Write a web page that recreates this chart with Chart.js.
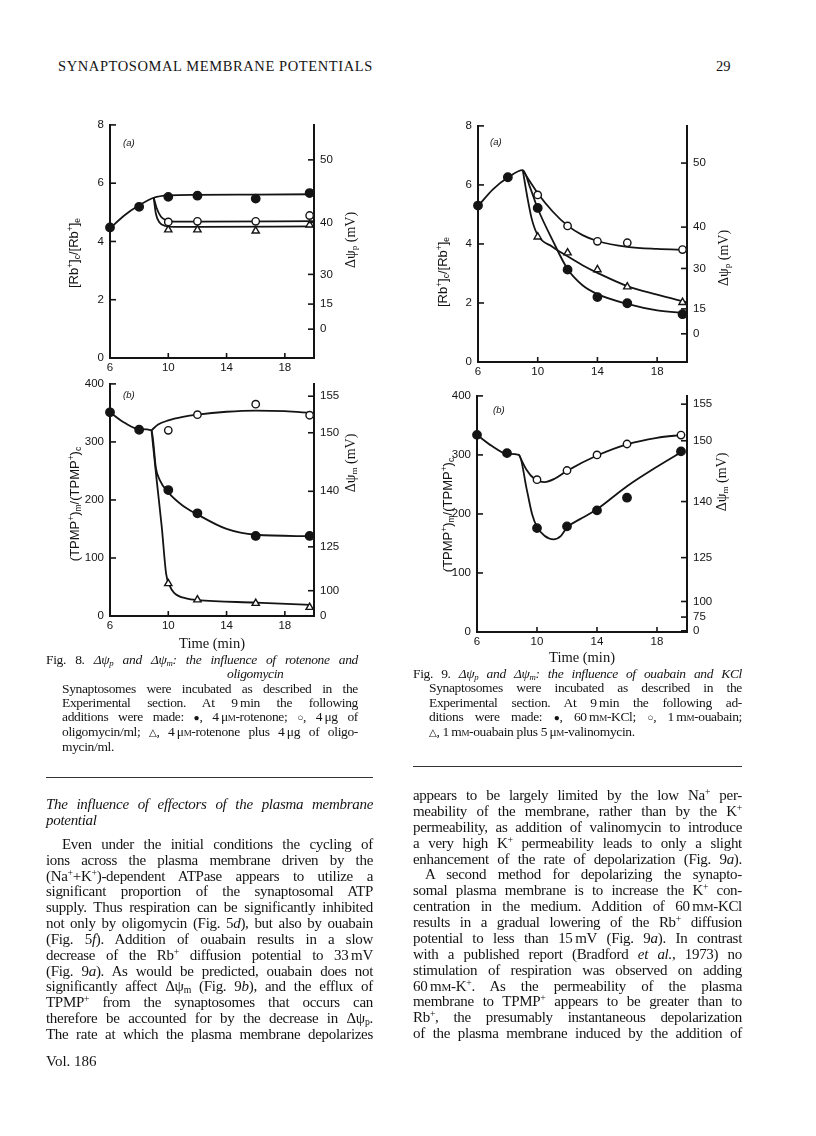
<!DOCTYPE html>
<html lang="en">
<head>
<meta charset="UTF-8">
<title>Synaptosomal membrane potentials</title>
<script src="https://cdn.jsdelivr.net/npm/chart.js"></script>
<style>
    body {
        margin: 0;
        width: 816px;
        height: 1136px;
        position: relative;
        overflow: hidden;
        background: #fff;
        color: #141414;
        font-family: "Liberation Serif", "DejaVu Serif", serif;
    }
    canvas { position: absolute; }
    .abs { position: absolute; white-space: nowrap; }
    .col { position: absolute; }
    .col > div { white-space: nowrap; }
    .ind { padding-left: 16px; }
    .body { font-size: 15px; letter-spacing: -0.3px; }
    .cap { font-size: 13.5px; letter-spacing: -0.35px; line-height: 14.2px; }
    sup { font-size: 0.65em; vertical-align: 0.5em; line-height: 0; }
    sub { font-size: 0.65em; vertical-align: -0.25em; line-height: 0; }
    .sc { font-variant: small-caps; }
    .sym { font-size: 0.75em; }
    .rot { position: absolute; white-space: nowrap; transform: translate(-50%, -50%) rotate(-90deg); }
    .axt { font-family: "Liberation Sans", Arial, sans-serif; font-size: 13px; }
    .axr { font-family: "Liberation Serif", serif; font-size: 14px; }
    .tag { font-family: "Liberation Sans", Arial, sans-serif; font-style: italic; font-size: 9.5px; }
    .rule { position: absolute; height: 1px; background: #333; }
</style>
</head>
<body>

<div class="abs" style="left:58px;top:58px;font-size:14.5px;letter-spacing:0.6px;">SYNAPTOSOMAL MEMBRANE POTENTIALS</div>
<div class="abs" style="left:716px;top:58px;font-size:14.5px;">29</div>

<canvas id="fig8a"></canvas>
<canvas id="fig8b"></canvas>
<canvas id="fig9a"></canvas>
<canvas id="fig9b"></canvas>

<!-- axis titles and panel letters -->
<div class="rot axt" style="left:73px;top:253px;">[Rb<sup>+</sup>]<sub>c</sub>/[Rb<sup>+</sup>]<sub>e</sub></div>
<div class="rot axr" style="left:351px;top:240px;">Δψ<sub>p</sub> (mV)</div>
<div class="rot axt" style="left:74px;top:504px;">(TPMP<sup>+</sup>)<sub>m</sub>/(TPMP<sup>+</sup>)<sub>c</sub></div>
<div class="rot axr" style="left:351px;top:463px;">Δψ<sub>m</sub> (mV)</div>
<div class="rot axt" style="left:442px;top:272px;">[Rb<sup>+</sup>]<sub>c</sub>/[Rb<sup>+</sup>]<sub>e</sub></div>
<div class="rot axr" style="left:724px;top:258px;">Δψ<sub>p</sub> (mV)</div>
<div class="rot axt" style="left:447px;top:515px;">(TPMP<sup>+</sup>)<sub>m</sub>/(TPMP<sup>+</sup>)<sub>c</sub></div>
<div class="rot axr" style="left:722px;top:482px;">Δψ<sub>m</sub> (mV)</div>

<div class="abs tag" style="left:123px;top:137px;">(a)</div>
<div class="abs tag" style="left:123px;top:389px;">(b)</div>
<div class="abs tag" style="left:490px;top:136px;">(a)</div>
<div class="abs tag" style="left:493px;top:404px;">(b)</div>

<div class="abs" style="left:212px;top:643px;font-size:14.5px;transform:translate(-50%,-50%);">Time (min)</div>
<div class="abs" style="left:582px;top:657px;font-size:14.5px;transform:translate(-50%,-50%);">Time (min)</div>

<!-- captions -->
<div class="col cap" style="left:46px;top:653.2px;width:312px;">
    <div class="j">Fig. 8. <i>Δψ<sub>p</sub> and Δψ<sub>m</sub>: the influence of rotenone and</i></div>
    <div style="padding-left:181px;"><i>oligomycin</i></div>
    <div class="j ind">Synaptosomes were incubated as described in the</div>
    <div class="j ind">Experimental section. At 9&#8201;min the following</div>
    <div class="j ind">additions were made: <span class="sym">●</span>, 4&#8201;μ<span class="sc">m</span>-rotenone; <span class="sym">○</span>, 4&#8201;μg of</div>
    <div class="j ind">oligomycin/ml; <span class="sym">△</span>, 4&#8201;μ<span class="sc">m</span>-rotenone plus 4&#8201;μg of oligo-</div>
    <div class="ind">mycin/ml.</div>
</div>
<div class="col cap" style="left:413px;top:667.2px;width:329px;">
    <div class="j">Fig. 9. <i>Δψ<sub>p</sub> and Δψ<sub>m</sub>: the influence of ouabain and KCl</i></div>
    <div class="j ind">Synaptosomes were incubated as described in the</div>
    <div class="j ind">Experimental section. At 9&#8201;min the following ad-</div>
    <div class="j ind">ditions were made: <span class="sym">●</span>, 60&#8201;m<span class="sc">m</span>-KCl; <span class="sym">○</span>, 1&#8201;m<span class="sc">m</span>-ouabain;</div>
    <div class="ind"><span class="sym">△</span>, 1&#8201;m<span class="sc">m</span>-ouabain plus 5&#8201;μ<span class="sc">m</span>-valinomycin.</div>
</div>

<div class="rule" style="left:46px;top:777px;width:327px;"></div>
<div class="rule" style="left:413px;top:766px;width:329px;"></div>

<!-- left column -->
<div class="col body" style="left:46px;top:795.5px;width:327px;line-height:16px;font-style:italic;">
    <div class="j">The influence of effectors of the plasma membrane</div>
    <div>potential</div>
</div>
<div class="col body" style="left:46px;top:837px;width:327px;line-height:15.83px;">
    <div class="j ind">Even under the initial conditions the cycling of</div>
    <div class="j">ions across the plasma membrane driven by the</div>
    <div class="j">(Na<sup>+</sup>+K<sup>+</sup>)-dependent ATPase appears to utilize a</div>
    <div class="j">significant proportion of the synaptosomal ATP</div>
    <div class="j">supply. Thus respiration can be significantly inhibited</div>
    <div class="j">not only by oligomycin (Fig. 5<i>d</i>), but also by ouabain</div>
    <div class="j">(Fig. 5<i>f</i>). Addition of ouabain results in a slow</div>
    <div class="j">decrease of the Rb<sup>+</sup> diffusion potential to 33&#8201;mV</div>
    <div class="j">(Fig. 9<i>a</i>). As would be predicted, ouabain does not</div>
    <div class="j">significantly affect Δψ<sub>m</sub> (Fig. 9<i>b</i>), and the efflux of</div>
    <div class="j">TPMP<sup>+</sup> from the synaptosomes that occurs can</div>
    <div class="j">therefore be accounted for by the decrease in Δψ<sub>p</sub>.</div>
    <div class="j">The rate at which the plasma membrane depolarizes</div>
</div>
<div class="abs" style="left:46px;top:1052.5px;font-size:15px;">Vol. 186</div>

<!-- right column -->
<div class="col body" style="left:413px;top:788px;width:329px;line-height:15.87px;">
    <div class="j">appears to be largely limited by the low Na<sup>+</sup> per-</div>
    <div class="j">meability of the membrane, rather than by the K<sup>+</sup></div>
    <div class="j">permeability, as addition of valinomycin to introduce</div>
    <div class="j">a very high K<sup>+</sup> permeability leads to only a slight</div>
    <div class="j">enhancement of the rate of depolarization (Fig. 9<i>a</i>).</div>
    <div class="j" style="padding-left:12px;">A second method for depolarizing the synapto-</div>
    <div class="j">somal plasma membrane is to increase the K<sup>+</sup> con-</div>
    <div class="j">centration in the medium. Addition of 60&#8201;m<span class="sc">m</span>-KCl</div>
    <div class="j">results in a gradual lowering of the Rb<sup>+</sup> diffusion</div>
    <div class="j">potential to less than 15&#8201;mV (Fig. 9<i>a</i>). In contrast</div>
    <div class="j">with a published report (Bradford <i>et al.</i>, 1973) no</div>
    <div class="j">stimulation of respiration was observed on adding</div>
    <div class="j">60&#8201;m<span class="sc">m</span>-K<sup>+</sup>. As the permeability of the plasma</div>
    <div class="j">membrane to TPMP<sup>+</sup> appears to be greater than to</div>
    <div class="j">Rb<sup>+</sup>, the presumably instantaneous depolarization</div>
    <div class="j">of the plasma membrane induced by the addition of</div>
</div>

<script>
    // shared ticks
    const timeTicks = [6, 10, 14, 18];
    const ratioTicks = [0, 2, 4, 6, 8];
    const tpmpTicks = [0, 100, 200, 300, 400];

    // right-hand mV scales: label and where it sits on the left scale
    const psiPLabels = ['0', '15', '30', '40', '50'];
    const psiPAt8a = [0.99, 1.85, 2.87, 4.65, 6.80];
    const psiPAt9a = [0.955, 1.80, 3.17, 4.57, 6.74];
    const psiMLabels8 = ['0', '100', '125', '140', '150', '155'];
    const psiMAt8b = [0, 43.6, 119.2, 214.9, 315.8, 378.8];
    const psiMLabels9 = ['0', '75', '100', '125', '140', '150', '155'];
    const psiMAt9b = [2, 25.3, 51.7, 126, 221, 324, 386];

    // Fig. 8a  Rb+ ratio
    const f8aRotX = [6, 8, 10, 12, 16, 19.7];
    const f8aRotY = [4.48, 5.19, 5.53, 5.57, 5.47, 5.66];
    const f8aOligoX = [10, 12, 16, 19.7];
    const f8aOligoY = [4.67, 4.69, 4.69, 4.89];
    const f8aBothX = [10, 12, 16, 19.7];
    const f8aBothY = [4.4, 4.4, 4.36, 4.57];
    const f8aRotCurveX = [6, 7, 8, 9, 10, 12, 16, 20];
    const f8aRotCurveY = [4.45, 4.9, 5.24, 5.5, 5.58, 5.6, 5.61, 5.62];
    const f8aOligoCurveX = [9, 9.2, 9.5, 9.9, 10.4, 12, 20];
    const f8aOligoCurveY = [5.5, 5.15, 4.85, 4.72, 4.68, 4.68, 4.7];
    const f8aBothCurveX = [9, 9.15, 9.4, 9.8, 10.4, 12, 20];
    const f8aBothCurveY = [5.5, 4.95, 4.65, 4.53, 4.5, 4.5, 4.52];

    // Fig. 8b  TPMP+ ratio
    const f8bRotX = [6, 8, 10, 12, 16, 19.7];
    const f8bRotY = [351, 321, 217, 177, 138, 138];
    const f8bOligoX = [10, 12, 16, 19.7];
    const f8bOligoY = [320, 347, 365, 346];
    const f8bBothX = [10, 12, 16, 19.7];
    const f8bBothY = [56, 28, 22, 15];
    const f8bRotCurveX = [6, 7, 8, 8.85, 9.15, 9.4, 10, 11, 12, 14, 16, 19.8];
    const f8bRotCurveY = [351, 333, 322, 320, 255, 235, 213, 190, 175, 150, 140, 137.5];
    const f8bOligoCurveX = [8.85, 9.3, 10, 11, 12, 14, 16, 18, 19.8];
    const f8bOligoCurveY = [320, 330, 337, 343, 347, 352, 354, 353, 350];
    const f8bBothCurveX = [8.85, 9.2, 9.55, 9.85, 10.1, 10.4, 11.3, 12, 16, 19.8];
    const f8bBothCurveY = [320, 235, 154, 73, 52, 40, 30, 27.5, 23, 19];

    // Fig. 9a  Rb+ ratio
    const f9aKclX = [6, 8, 10, 12, 14, 16, 19.7];
    const f9aKclY = [5.3, 6.26, 5.22, 3.13, 2.2, 1.99, 1.62];
    const f9aOuaX = [10, 12, 14, 16, 19.7];
    const f9aOuaY = [5.66, 4.61, 4.09, 4.04, 3.81];
    const f9aValX = [10, 12, 14, 16, 19.7];
    const f9aValY = [4.24, 3.7, 3.13, 2.55, 2.02];
    const f9aKclCurveX = [6, 7, 8, 9, 9.5, 10, 11, 12, 13, 14, 16, 18, 20];
    const f9aKclCurveY = [5.28, 5.85, 6.25, 6.5, 5.9, 5.2, 4.12, 3.15, 2.6, 2.3, 1.97, 1.75, 1.65];
    const f9aOuaCurveX = [9, 9.5, 10, 11, 12, 13, 14, 16, 18, 20];
    const f9aOuaCurveY = [6.5, 6.1, 5.72, 5.1, 4.62, 4.3, 4.1, 3.9, 3.83, 3.8];
    const f9aValCurveX = [9, 9.3, 9.6, 10, 11, 12, 13, 14, 16, 18, 20];
    const f9aValCurveY = [6.5, 5.6, 4.85, 4.3, 3.9, 3.58, 3.28, 3.02, 2.57, 2.28, 2.02];

    // Fig. 9b  TPMP+ ratio
    const f9bKclX = [6, 8, 10, 12, 14, 16, 19.6];
    const f9bKclY = [334, 303, 176, 179, 206, 227.5, 306];
    const f9bOuaX = [10, 12, 14, 16, 19.6];
    const f9bOuaY = [258, 273.6, 300, 318.5, 333.7];
    const f9bKclCurveX = [6, 7, 8, 8.8, 9.33, 9.67, 10, 10.5, 11.1, 11.6, 12, 13, 14, 16, 18, 19.7];
    const f9bKclCurveY = [334, 315, 302, 300, 240, 200, 178, 163, 157, 163, 177, 193, 208, 247, 280, 306];
    const f9bOuaCurveX = [8.8, 9.3, 9.8, 10.5, 11.2, 12, 14, 16, 18, 19.7];
    const f9bOuaCurveY = [300, 275, 260, 254, 260, 273, 299, 318, 329, 334];

    const ink = '#141414';
    const tickFont = { family: '"Liberation Sans", Arial, sans-serif', size: 11.5 };

    function pairs(xs, ys) {
        return xs.map((x, i) => ({ x: x, y: ys[i] }));
    }

    function curve(xs, ys) {
        return {
            data: pairs(xs, ys),
            borderColor: ink,
            borderWidth: 1.8,
            pointRadius: 0,
            cubicInterpolationMode: 'monotone',
            order: 1,
            clip: false
        };
    }

    function marks(xs, ys, kind) {
        return {
            data: pairs(xs, ys),
            showLine: false,
            pointStyle: kind === 'tri' ? 'triangle' : 'circle',
            pointRadius: kind === 'tri' ? 4.2 : (kind === 'open' ? 3.7 : 4.2),
            pointBackgroundColor: kind === 'filled' ? ink : '#fff',
            pointBorderColor: ink,
            pointBorderWidth: 1.4,
            order: 0,
            clip: false
        };
    }

    // little tick marks pointing into the plot, like the printed figure
    const inTicks = {
        id: 'inTicks',
        afterDraw(chart) {
            const ctx = chart.ctx;
            const a = chart.chartArea;
            ctx.save();
            ctx.strokeStyle = ink;
            ctx.lineWidth = 1.6;
            Object.values(chart.scales).forEach(s => {
                s.ticks.forEach(t => {
                    const p = s.getPixelForValue(t.value);
                    ctx.beginPath();
                    if (s.axis === 'x') {
                        ctx.moveTo(p, a.bottom);
                        ctx.lineTo(p, a.bottom - 5);
                    } else if (s.position === 'left') {
                        ctx.moveTo(a.left, p);
                        ctx.lineTo(a.left + 6, p);
                    } else {
                        ctx.moveTo(a.right, p);
                        ctx.lineTo(a.right - 6, p);
                    }
                    ctx.stroke();
                });
            });
            ctx.restore();
        }
    };

    function makePanel(id, box, yMax, yTicks, rightAt, rightLabels, datasets) {
        const padL = 60, padR = 45, padT = 12, padB = 22;
        const cv = document.getElementById(id);
        cv.width = box.r - box.l + padL + padR;
        cv.height = box.b - box.t + padT + padB;
        cv.style.left = (box.l - padL) + 'px';
        cv.style.top = (box.t - padT) + 'px';
        const border = { display: true, color: ink, width: 2 };
        const grid = { display: false, drawTicks: false };
        new Chart(cv, {
            type: 'line',
            data: { datasets: datasets },
            options: {
                responsive: false,
                animation: false,
                layout: { padding: { top: padT, left: 0, right: 0, bottom: 0 }, autoPadding: false },
                plugins: { legend: { display: false }, tooltip: { enabled: false } },
                scales: {
                    x: {
                        type: 'linear', min: 6, max: 20,
                        afterFit: s => { s.height = padB; },
                        afterBuildTicks: s => { s.ticks = timeTicks.map(v => ({ value: v })); },
                        grid: grid, border: border,
                        ticks: { font: tickFont, color: ink, padding: 3, maxRotation: 0, autoSkip: false }
                    },
                    y: {
                        type: 'linear', position: 'left', min: 0, max: yMax,
                        afterFit: s => { s.width = padL; },
                        afterBuildTicks: s => { s.ticks = yTicks.map(v => ({ value: v })); },
                        grid: grid, border: border,
                        ticks: { font: tickFont, color: ink, padding: 6, autoSkip: false }
                    },
                    y2: {
                        type: 'linear', position: 'right', min: 0, max: yMax,
                        afterFit: s => { s.width = padR; },
                        afterBuildTicks: s => { s.ticks = rightAt.map(v => ({ value: v })); },
                        grid: grid, border: border,
                        ticks: { font: tickFont, color: ink, padding: 6, autoSkip: false,
                                 callback: (v, i) => rightLabels[i] }
                    }
                }
            },
            plugins: [inTicks]
        });
    }

    makePanel('fig8a', { l: 110, r: 314, t: 124, b: 358 }, 8, ratioTicks, psiPAt8a, psiPLabels, [
        curve(f8aRotCurveX, f8aRotCurveY),
        curve(f8aOligoCurveX, f8aOligoCurveY),
        curve(f8aBothCurveX, f8aBothCurveY),
        marks(f8aRotX, f8aRotY, 'filled'),
        marks(f8aOligoX, f8aOligoY, 'open'),
        marks(f8aBothX, f8aBothY, 'tri')
    ]);

    makePanel('fig8b', { l: 110, r: 314, t: 383, b: 616 }, 400, tpmpTicks, psiMAt8b, psiMLabels8, [
        curve(f8bRotCurveX, f8bRotCurveY),
        curve(f8bOligoCurveX, f8bOligoCurveY),
        curve(f8bBothCurveX, f8bBothCurveY),
        marks(f8bRotX, f8bRotY, 'filled'),
        marks(f8bOligoX, f8bOligoY, 'open'),
        marks(f8bBothX, f8bBothY, 'tri')
    ]);

    makePanel('fig9a', { l: 478, r: 687, t: 125, b: 362 }, 8, ratioTicks, psiPAt9a, psiPLabels, [
        curve(f9aKclCurveX, f9aKclCurveY),
        curve(f9aOuaCurveX, f9aOuaCurveY),
        curve(f9aValCurveX, f9aValCurveY),
        marks(f9aKclX, f9aKclY, 'filled'),
        marks(f9aOuaX, f9aOuaY, 'open'),
        marks(f9aValX, f9aValY, 'tri')
    ]);

    makePanel('fig9b', { l: 477, r: 687, t: 395, b: 632 }, 400, tpmpTicks, psiMAt9b, psiMLabels9, [
        curve(f9bKclCurveX, f9bKclCurveY),
        curve(f9bOuaCurveX, f9bOuaCurveY),
        marks(f9bKclX, f9bKclY, 'filled'),
        marks(f9bOuaX, f9bOuaY, 'open')
    ]);

    // stretch each printed line to the column width
    function justifyLines() {
        document.querySelectorAll('.j').forEach(el => {
            const span = document.createElement('span');
            while (el.firstChild) span.appendChild(el.firstChild);
            el.appendChild(span);
            const cs = getComputedStyle(el);
            const baseLs = parseFloat(cs.letterSpacing) || 0;
            const avail = el.clientWidth - parseFloat(cs.paddingLeft) - parseFloat(cs.paddingRight);
            const text = el.textContent.trim();
            const gaps = (text.match(/ /g) || []).length;
            const extra = avail - span.getBoundingClientRect().width;
            if (gaps && extra / gaps >= -0.5) {
                el.style.wordSpacing = (extra / gaps) + 'px';
            } else {
                el.style.letterSpacing = (baseLs + extra / text.length) + 'px';
            }
        });
    }
    justifyLines();
</script>
</body>
</html>
